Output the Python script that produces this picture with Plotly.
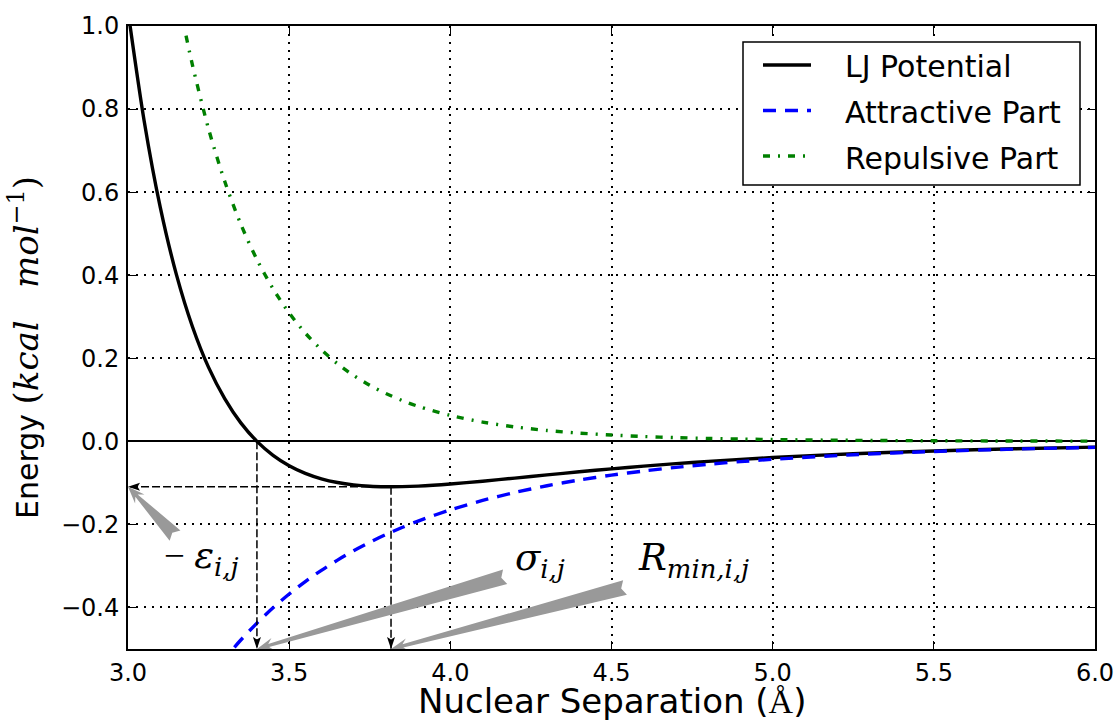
import math
import plotly.graph_objects as go

# ---------------- data ----------------
lj_r = [3.00, 3.05, 3.10, 3.15, 3.20, 3.25, 3.30, 3.35, 3.40, 3.45, 3.50, 3.55,
        3.60, 3.65, 3.70, 3.75, 3.80, 3.85, 3.90, 4.00, 4.10, 4.20, 4.30, 4.40,
        4.50, 4.60, 4.70, 4.80, 4.90, 5.00, 5.25, 5.50, 5.75, 6.00]
lj_e = [1.036, 0.772, 0.564, 0.402, 0.276, 0.178, 0.103, 0.0445, 0.0, -0.0336,
        -0.0587, -0.0771, -0.0902, -0.0991, -0.1048, -0.1081, -0.1093, -0.1091,
        -0.1078, -0.1028, -0.0960, -0.0885, -0.0808, -0.0733, -0.0663, -0.0597,
        -0.0537, -0.0483, -0.0434, -0.0390, -0.0299, -0.0231, -0.0179, -0.0140]

att_r = [3.33, 3.35, 3.40, 3.45, 3.50, 3.55, 3.60, 3.65, 3.70, 3.75, 3.80, 3.85,
         3.90, 4.00, 4.10, 4.20, 4.30, 4.40, 4.50, 4.60, 4.70, 4.80, 4.90, 5.00,
         5.25, 5.50, 5.75, 6.00]
att_e = [-0.4958, -0.4783, -0.4376, -0.4009, -0.3677, -0.3377, -0.3106, -0.2859,
         -0.2635, -0.2431, -0.2245, -0.2076, -0.1921, -0.1650, -0.1423, -0.1232,
         -0.1069, -0.0932, -0.0814, -0.0714, -0.0627, -0.0553, -0.0488, -0.0433,
         -0.0323, -0.0244, -0.0187, -0.0145]

rep_r = [3.18, 3.20, 3.25, 3.30, 3.35, 3.40, 3.45, 3.50, 3.55, 3.60, 3.65, 3.70,
         3.75, 3.80, 3.85, 3.90, 4.00, 4.10, 4.20, 4.30, 4.40, 4.50, 4.60, 4.70,
         4.80, 4.90, 5.00, 5.25, 5.50, 5.75, 6.00]
rep_e = [0.9766, 0.9058, 0.7520, 0.6261, 0.5227, 0.4376, 0.3673, 0.3090, 0.2607,
         0.2204, 0.1868, 0.1586, 0.1350, 0.1152, 0.0985, 0.0843, 0.0623, 0.0463,
         0.0347, 0.0261, 0.0198, 0.0152, 0.0116, 0.0090, 0.0070, 0.0055, 0.0043,
         0.0024, 0.0014, 0.0008, 0.0005]

sigma = 3.40
r_min = 3.816
eps_min = -0.1094

x_ticks = [3.0, 3.5, 4.0, 4.5, 5.0, 5.5, 6.0]
y_ticks = [-0.4, -0.2, 0.0, 0.2, 0.4, 0.6, 0.8, 1.0]
x_range = [3.0, 6.0]
y_range = [-0.5, 1.0]

series_names = ["LJ Potential", "Attractive Part", "Repulsive Part"]
series_colors = ["black", "#0000ff", "#008000"]
series_dash = ["solid", "13px,9px", "7px,8px,2px,8px"]

x_title = "Nuclear Separation (<span style='font-family:Liberation Serif'>Å</span>)"
y_title = ("Energy <span style='font-family:DejaVu Serif;font-size:34px'>"
           "(<i>kcal\u00a0\u00a0\u00a0mol</i><sup>−1</sup>)</span>")

# ---------------- layout constants ----------------
W, H = 1118, 723
ML, MR, MT, MB = 128, 23, 26, 74
PW, PH = W - ML - MR, H - MT - MB
kx = PW / (x_range[1] - x_range[0])
ky = PH / (y_range[1] - y_range[0])

# label anchors / arrow tails (data units)
eps_label = (3.105, -0.280)
sig_label = (4.195, -0.286)
rmin_label = (4.575, -0.286)
eps_tail = (3.146, -0.227)
sig_tail = (4.170, -0.326)
rmin_tail = (4.542, -0.352)

GRAY = "#999999"
MATH = "DejaVu Serif"


def to_px(x, y):
    return ((x - x_range[0]) * kx, (y_range[1] - y) * ky)


def to_data(px, py):
    return (x_range[0] + px / kx, y_range[1] - py / ky)


def px_to_paper(px, py):
    return ((px - ML) / PW, 1 - (py - MT) / PH)


def wedge(tip, tail, hl=17, hw=6.5, sw=1.6, bw=7.5, notch=4):
    tx, ty = to_px(*tip)
    bx, by = to_px(*tail)
    dx, dy = bx - tx, by - ty
    L = math.hypot(dx, dy)
    ux, uy = dx / L, dy / L
    nx, ny = -uy, ux
    pts = [
        (tx, ty),
        (tx + ux * hl + nx * hw, ty + uy * hl + ny * hw),
        (tx + ux * hl * 0.72 + nx * sw, ty + uy * hl * 0.72 + ny * sw),
        (bx + nx * bw, by + ny * bw),
        (bx - ux * notch, by - uy * notch),
        (bx - nx * bw, by - ny * bw),
        (tx + ux * hl * 0.72 - nx * sw, ty + uy * hl * 0.72 - ny * sw),
        (tx + ux * hl - nx * hw, ty + uy * hl - ny * hw),
        (tx, ty),
    ]
    d = [to_data(*p) for p in pts]
    return [p[0] for p in d], [p[1] for p in d]


def head(tip, frm, hl=12, hw=4):
    tx, ty = to_px(*tip)
    fx, fy = to_px(*frm)
    dx, dy = fx - tx, fy - ty
    L = math.hypot(dx, dy)
    ux, uy = dx / L, dy / L
    nx, ny = -uy, ux
    pts = [(tx, ty),
           (tx + ux * hl + nx * hw, ty + uy * hl + ny * hw),
           (tx + ux * hl * 0.8, ty + uy * hl * 0.8),
           (tx + ux * hl - nx * hw, ty + uy * hl - ny * hw),
           (tx, ty)]
    d = [to_data(*p) for p in pts]
    return [p[0] for p in d], [p[1] for p in d]


fig = go.Figure()

for xs, ys, name, col, dash in zip([lj_r, att_r, rep_r], [lj_e, att_e, rep_e],
                                   series_names, series_colors, series_dash):
    fig.add_trace(go.Scatter(x=xs, y=ys, mode="lines", name=name, showlegend=False,
                             line=dict(color=col, width=3.4, dash=dash,
                                       shape="spline", smoothing=0.8)))

# dashed guide lines
guide = dict(color="black", width=1.5, dash="8px,3px")
for xs, ys in [([r_min, x_range[0]], [eps_min, eps_min]),
               ([sigma, sigma], [0.0, y_range[0]]),
               ([r_min, r_min], [eps_min, y_range[0]])]:
    fig.add_trace(go.Scatter(x=xs, y=ys, mode="lines", line=guide,
                             showlegend=False, hoverinfo="skip"))

# black arrow heads
for tip, frm in [((x_range[0], eps_min), (r_min, eps_min)),
                 ((sigma, y_range[0]), (sigma, 0.0)),
                 ((r_min, y_range[0]), (r_min, eps_min))]:
    hx, hy = head(tip, frm)
    fig.add_trace(go.Scatter(x=hx, y=hy, mode="lines", fill="toself",
                             fillcolor="black", line=dict(width=0, color="black"),
                             showlegend=False, hoverinfo="skip"))

# gray wedge arrows
for tip, tail in [((x_range[0], eps_min), eps_tail),
                  ((sigma, y_range[0]), sig_tail),
                  ((r_min, y_range[0]), rmin_tail)]:
    wx, wy = wedge(tip, tail)
    fig.add_trace(go.Scatter(x=wx, y=wy, mode="lines", fill="toself",
                             fillcolor=GRAY, line=dict(width=0, color=GRAY),
                             showlegend=False, hoverinfo="skip"))

math_font = dict(family=MATH, size=37, color="black")
fig.add_annotation(x=eps_label[0], y=eps_label[1], xref="x", yref="y",
                   text="<span style='font-family:Liberation Serif'>−\u00a0</span><i>ε</i><sub><i>i,j</i></sub>",
                   showarrow=False, xanchor="left", yanchor="middle", font=math_font)
fig.add_annotation(x=sig_label[0], y=sig_label[1], xref="x", yref="y",
                   text="<i>σ</i><sub><i>i,j</i></sub>", showarrow=False,
                   xanchor="left", yanchor="middle", font=math_font)
fig.add_annotation(x=rmin_label[0], y=rmin_label[1], xref="x", yref="y",
                   text="<i>R</i><sub><i>min,i,j</i></sub>", showarrow=False,
                   xanchor="left", yanchor="middle", font=math_font)

# ---------------- axis titles (placed in paper space) ----------------
xt_x, xt_y = px_to_paper(ML + PW / 2, 701)
fig.add_annotation(x=xt_x, y=xt_y, xref="paper", yref="paper", text=x_title,
                   showarrow=False, xanchor="center", yanchor="middle",
                   font=dict(family="DejaVu Sans", size=34, color="black"))
yt_x, yt_y = px_to_paper(24, 348)
fig.add_annotation(x=yt_x, y=yt_y, xref="paper", yref="paper", text=y_title,
                   showarrow=False, xanchor="center", yanchor="middle", textangle=-90,
                   font=dict(family="DejaVu Sans", size=30, color="black"))

# ---------------- legend (drawn in paper space) ----------------
lx0, ly0 = px_to_paper(743, 42)
lx1, ly1 = px_to_paper(1080, 185)
fig.add_shape(type="rect", xref="paper", yref="paper", x0=lx0, y0=ly1, x1=lx1, y1=ly0,
              line=dict(color="black", width=1.5), fillcolor="white", layer="above")
for i, (name, col, dash) in enumerate(zip(series_names, series_colors, series_dash)):
    row_y = 65 + 45.5 * i
    sx0, sy = px_to_paper(763, row_y)
    sx1, _ = px_to_paper(811, row_y)
    fig.add_shape(type="line", xref="paper", yref="paper", x0=sx0, x1=sx1, y0=sy, y1=sy,
                  line=dict(color=col, width=3.4, dash=dash), layer="above")
    tx, ty = px_to_paper(843, row_y + 2)
    fig.add_annotation(x=tx, y=ty, xref="paper", yref="paper", text=name,
                       showarrow=False, xanchor="left", yanchor="middle",
                       font=dict(family="DejaVu Sans", size=30, color="black"))

axis_common = dict(showline=True, linewidth=2, linecolor="black", mirror="ticks",
                   ticks="inside", ticklen=8, tickwidth=1, tickcolor="black",
                   showgrid=True, gridcolor="black", gridwidth=1.5, griddash="2px,6px",
                   tickfont=dict(family="DejaVu Sans", size=24, color="black"),
                   tickformat=".1f")

fig.update_xaxes(range=x_range, tickvals=x_ticks, zeroline=False,
                 ticklabelstandoff=1, **axis_common)
fig.update_yaxes(range=y_range, tickvals=y_ticks, zeroline=True,
                 zerolinecolor="black", zerolinewidth=1.5,
                 ticklabelstandoff=2, **axis_common)

fig.update_layout(
    width=W, height=H,
    margin=dict(l=ML, r=MR, t=MT, b=MB, autoexpand=False),
    paper_bgcolor="white", plot_bgcolor="white",
    font=dict(family="DejaVu Sans", color="black"),
    showlegend=False,
)

fig.write_html("out.html")
